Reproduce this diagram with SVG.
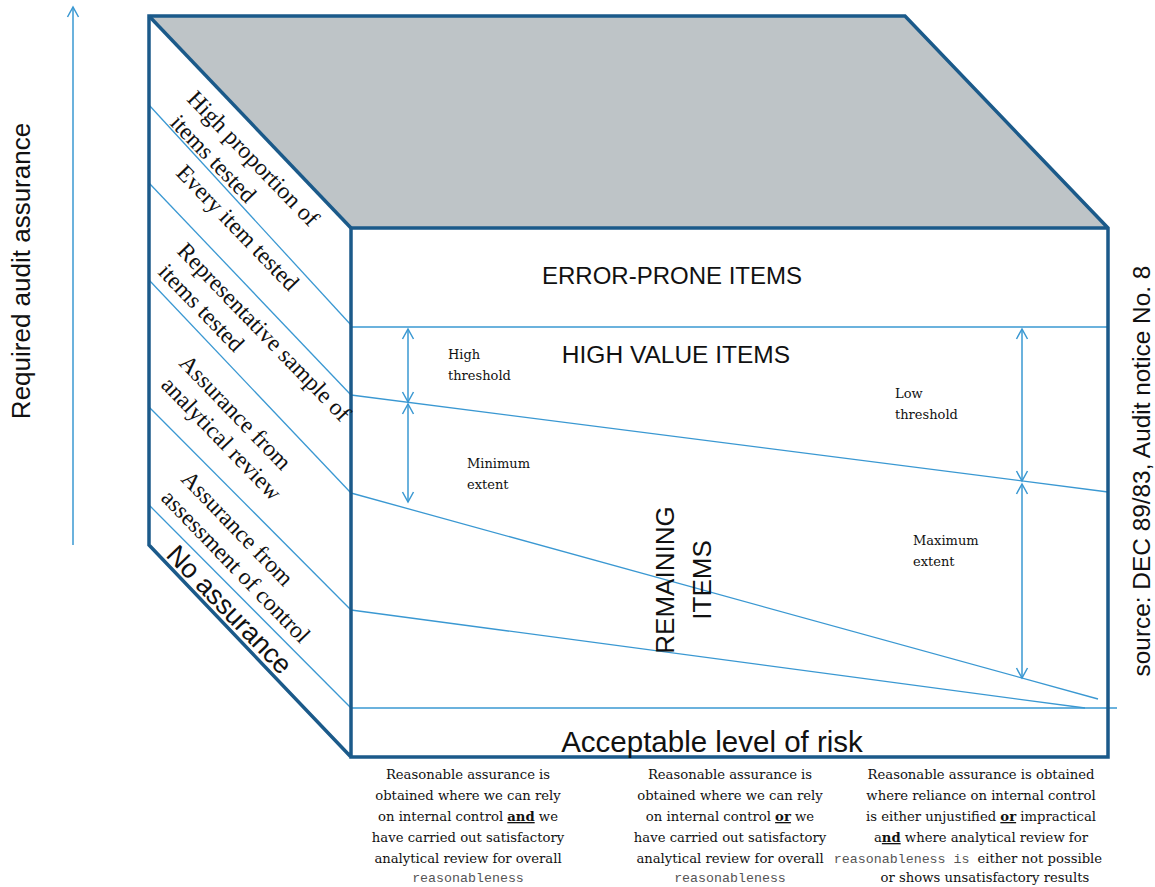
<svg xmlns="http://www.w3.org/2000/svg" width="1155" height="887" viewBox="0 0 1155 887">
<style>
.edge{fill:none;stroke:#1B5A8A;stroke-width:3.5;stroke-linejoin:miter}
.thin{fill:none;stroke:#3A98D2;stroke-width:1.3}
.arr{fill:none;stroke:#3A98D2;stroke-width:1.5;marker-start:url(#ah);marker-end:url(#ah)}
.sans{font-family:"Liberation Sans",Arial,sans-serif;fill:#111}
.side{font-family:"Liberation Serif","Times New Roman",serif;font-size:23.5px;fill:#111}
.lab{font-family:"DejaVu Serif",serif;font-size:13px;fill:#111}
.note{font-family:"DejaVu Serif",serif;font-size:13.2px;fill:#111;text-anchor:middle}
.mono{font-family:"Liberation Mono","Courier New",monospace;font-size:13.3px;fill:#555}
.bu{font-weight:bold;text-decoration:underline}
</style>
<defs>
<marker id="ah" viewBox="-11 -7 13 14" refX="0" refY="0" markerWidth="13" markerHeight="14" markerUnits="userSpaceOnUse" orient="auto-start-reverse">
<path d="M-10,-5.5 L0,0 L-10,5.5" fill="none" stroke="#3A98D2" stroke-width="1.5"/>
</marker>
</defs>
<rect width="1155" height="887" fill="#fff"/>

<g id="cube">
<polygon points="149,16 905,16 1108,228 351,228" fill="#BEC4C7"/>
<polygon points="149,16 351,228 351,757 149,545" fill="#fff"/>
<rect x="351" y="228" width="757" height="529" fill="#fff"/>
</g>

<g id="connectors">
<line class="thin" x1="149" y1="105" x2="351" y2="325"/>
<line class="thin" x1="149" y1="183" x2="351" y2="395"/>
<line class="thin" x1="149" y1="280" x2="351" y2="493"/>
<line class="thin" x1="149" y1="407" x2="351" y2="610"/>
<line class="thin" x1="149" y1="505" x2="351" y2="708"/>
<line class="thin" x1="351" y1="327" x2="1108" y2="327"/>
<line class="thin" x1="351" y1="395" x2="1108" y2="492"/>
<line class="thin" x1="351" y1="493" x2="1098" y2="699"/>
<line class="thin" x1="351" y1="610" x2="1085" y2="708"/>
<line class="thin" x1="351" y1="708" x2="1117" y2="708"/>
<line class="arr" x1="408" y1="329" x2="408" y2="402"/>
<line class="arr" x1="408" y1="404" x2="408" y2="502"/>
<line class="arr" x1="1022" y1="329" x2="1022" y2="481"/>
<line class="arr" x1="1022" y1="484" x2="1022" y2="678"/>
<line x1="73" y1="545" x2="73" y2="7" fill="none" stroke="#3A98D2" stroke-width="1.5" marker-end="url(#ah)"/>
</g>

<g id="cube-edges">
<polyline class="edge" points="351,757 149,545 149,16 905,16 1108,228 1108,757 351,757 351,228 1108,228"/>
<line class="edge" x1="149" y1="16" x2="351" y2="228"/>
</g>

<g id="left-labels">
<g transform="translate(186,100) rotate(46)"><text class="side" x="0" y="0">High proportion of</text></g>
<g transform="translate(169,124) rotate(46)"><text class="side" x="0" y="0">items tested</text></g>
<g transform="translate(175,174) rotate(46)"><text class="side" x="0" y="0">Every item tested</text></g>
<g transform="translate(176,252) rotate(46)"><text class="side" x="0" y="0">Representative sample of</text></g>
<g transform="translate(157,273) rotate(46)"><text class="side" x="0" y="0">items tested</text></g>
<g transform="translate(178,364) rotate(46)"><text class="side" x="0" y="0">Assurance from</text></g>
<g transform="translate(160,386) rotate(46)"><text class="side" x="0" y="0">analytical review</text></g>
<g transform="translate(180,480) rotate(46)"><text class="side" x="0" y="0">Assurance from</text></g>
<g transform="translate(160,499) rotate(46)"><text class="side" x="0" y="0">assessment of control</text></g>
<g id="no-assurance" transform="translate(165,556) rotate(46)"><text class="sans" font-size="27" x="0" y="0">No assurance</text></g>
</g>

<g id="front-labels">
<text class="sans" font-size="24" x="672" y="284" text-anchor="middle">ERROR-PRONE ITEMS</text>
<text class="sans" font-size="24.5" x="676" y="363" text-anchor="middle">HIGH VALUE ITEMS</text>
<g transform="translate(674,580) rotate(-90)">
<text class="sans" font-size="26" text-anchor="middle"><tspan x="0" y="0">REMAINING</tspan><tspan x="0" y="37">ITEMS</tspan></text>
</g>
<text class="sans" font-size="29.5" x="712" y="752" text-anchor="middle">Acceptable level of risk</text>
</g>

<g id="threshold-labels">
<text class="lab"><tspan x="448" y="359">High</tspan><tspan x="448" y="380">threshold</tspan></text>
<text class="lab"><tspan x="467" y="468">Minimum</tspan><tspan x="467" y="489">extent</tspan></text>
<text class="lab"><tspan x="895" y="398">Low</tspan><tspan x="895" y="419">threshold</tspan></text>
<text class="lab"><tspan x="913" y="545">Maximum</tspan><tspan x="913" y="566">extent</tspan></text>
</g>

<g id="axis-label">
<text class="sans" font-size="26" transform="translate(30,271) rotate(-90)" text-anchor="middle" fill="#222">Required audit assurance</text>
</g>
<g id="source">
<text class="sans" font-size="24.4" transform="translate(1150,471) rotate(-90)" text-anchor="middle" fill="#222">source: DEC 89/83, Audit notice No. 8</text>
</g>

<g id="note-1">
<text class="note" x="468" y="779">Reasonable assurance is</text>
<text class="note" x="468" y="800">obtained where we can rely</text>
<text class="note" x="468" y="821">on internal control <tspan class="bu">and</tspan> we</text>
<text class="note" x="468" y="842">have carried out satisfactory</text>
<text class="note" x="468" y="863">analytical review for overall</text>
<text class="note" x="468" y="882"><tspan class="mono">reasonableness</tspan></text>
</g>
<g id="note-2">
<text class="note" x="730" y="779">Reasonable assurance is</text>
<text class="note" x="730" y="800">obtained where we can rely</text>
<text class="note" x="730" y="821">on internal control <tspan class="bu">or</tspan> we</text>
<text class="note" x="730" y="842">have carried out satisfactory</text>
<text class="note" x="730" y="863">analytical review for overall</text>
<text class="note" x="730" y="882"><tspan class="mono">reasonableness</tspan></text>
</g>
<g id="note-3">
<text class="note" x="981" y="779">Reasonable assurance is obtained</text>
<text class="note" x="981" y="800">where reliance on internal control</text>
<text class="note" x="981" y="821">is either unjustified <tspan class="bu">or</tspan> impractical</text>
<text class="note" x="981" y="842">a<tspan class="bu">nd</tspan> where analytical review for</text>
<text class="note" x="968" y="863"><tspan class="mono">reasonableness is </tspan>either not possible</text>
<text class="note" x="985" y="882">or shows unsatisfactory results</text>
</g>
</svg>
